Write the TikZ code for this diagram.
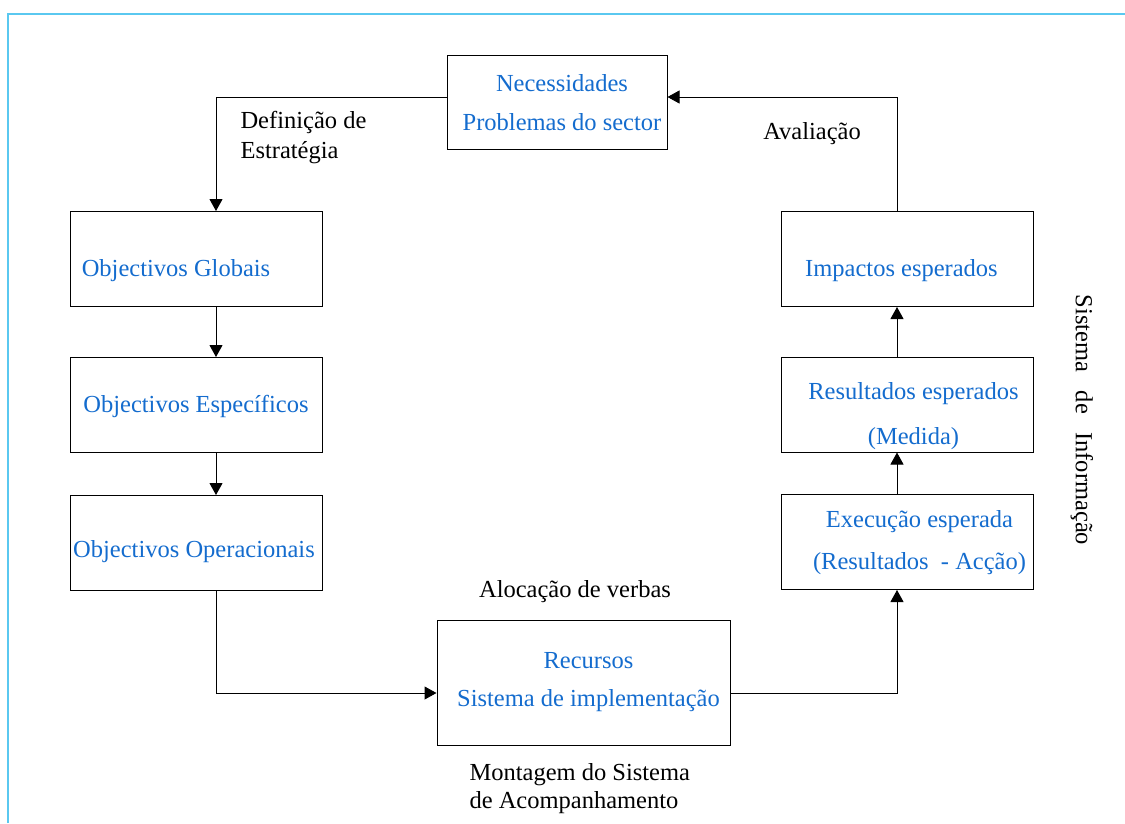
\documentclass[tikz,border=0pt]{standalone}
\usepackage{fontspec}
\setmainfont{Liberation Serif}
\usetikzlibrary{arrows.meta}
\definecolor{boxblue}{RGB}{20,108,206}
\definecolor{framecol}{RGB}{90,200,240}
% box text, moved by (#1,#2) from the box centre
\newcommand{\Txt}[3]{\raisebox{-#2}[0pt][0pt]{\makebox[0pt]{\hspace*{#1}\hspace*{#1}\begin{tabular}{@{}c@{}}#3\end{tabular}}}}
\tikzset{
	box/.style={draw,line width=1pt,minimum width=252pt,minimum height=95pt,
		text=boxblue,align=center,font=\fontsize{24.5}{40}\selectfont},
	lbl/.style={font=\fontsize{24.5}{30}\selectfont,align=left},
	arr/.style={line width=1pt,-{Triangle[length=12pt,width=13pt]}}
}

\begin{document}
\begin{tikzpicture}[x=1pt,y=-1pt]
\useasboundingbox (0,0) rectangle (1125,823);
%frame
\draw[framecol,line width=1.5pt](8,823)--(8,14)--(1125,14);
%helper coordinates
\coordinate (lx) at (216,0);
\coordinate (rx) at (897,0);
\coordinate (ty) at (0,97);
\coordinate (by) at (0,693);
%boxes
\node[box,minimum width=220pt,minimum height=94pt] (necess) at (557,102) {\Txt{5pt}{7pt}{Necessidades\\[-1pt]Problemas do sector}};
\node[box] (globais) at (196,259) {\Txt{-20pt}{16pt}{Objectivos Globais}};
\node[box] (especif) at (196,405) {\Txt{0pt}{6pt}{Objectivos Específicos}};
\node[box] (operac) at (196,543) {\Txt{-2pt}{13pt}{Objectivos Operacionais}};
\node[box,minimum width=293pt,minimum height=125pt] (recursos) at (583.5,683) {\Txt{5pt}{3pt}{Recursos\\[-2pt]Sistema de implementação}};
\node[box] (execucao) at (907.5,542) {\Txt{12pt}{4.5pt}{Execução esperada\\[2pt](Resultados \ - Acção)}};
\node[box] (resultados) at (907.5,404.5) {\Txt{6pt}{15.5pt}{Resultados esperados\\[5pt](Medida)}};
\node[box] (impactos) at (907.5,259) {\Txt{-6pt}{16pt}{Impactos esperados}};
%arrows
\draw[arr](necess.west |- ty) -| (globais.north -| lx);
\draw[arr](globais.south -| lx) -- (especif.north -| lx);
\draw[arr](especif.south -| lx) -- (operac.north -| lx);
\draw[arr](operac.south -| lx) |- (recursos.west |- by);
\draw[arr](recursos.east |- by) -| (execucao.south -| rx);
\draw[arr](execucao.north -| rx) -- (resultados.south -| rx);
\draw[arr](resultados.north -| rx) -- (impactos.south -| rx);
\draw[arr](impactos.north -| rx) |- (necess.east |- ty);
%labels
\node[lbl,anchor=west] (estrat) at (237,138) {Definição de\\Estratégia};
\node[lbl] (aval) at (812,134) {Avaliação};
\node[lbl] (alocac) at (575,592) {Alocação de verbas};
\node[lbl,anchor=west,font=\fontsize{24.5}{28}\selectfont] (montag) at (466,789) {Montagem do Sistema\\de Acompanhamento};
\node[lbl,rotate=-90] (sistinf) at (1082,420) {Sistema\ \ \ de\ \ \ Informação};
\end{tikzpicture}
\end{document}
